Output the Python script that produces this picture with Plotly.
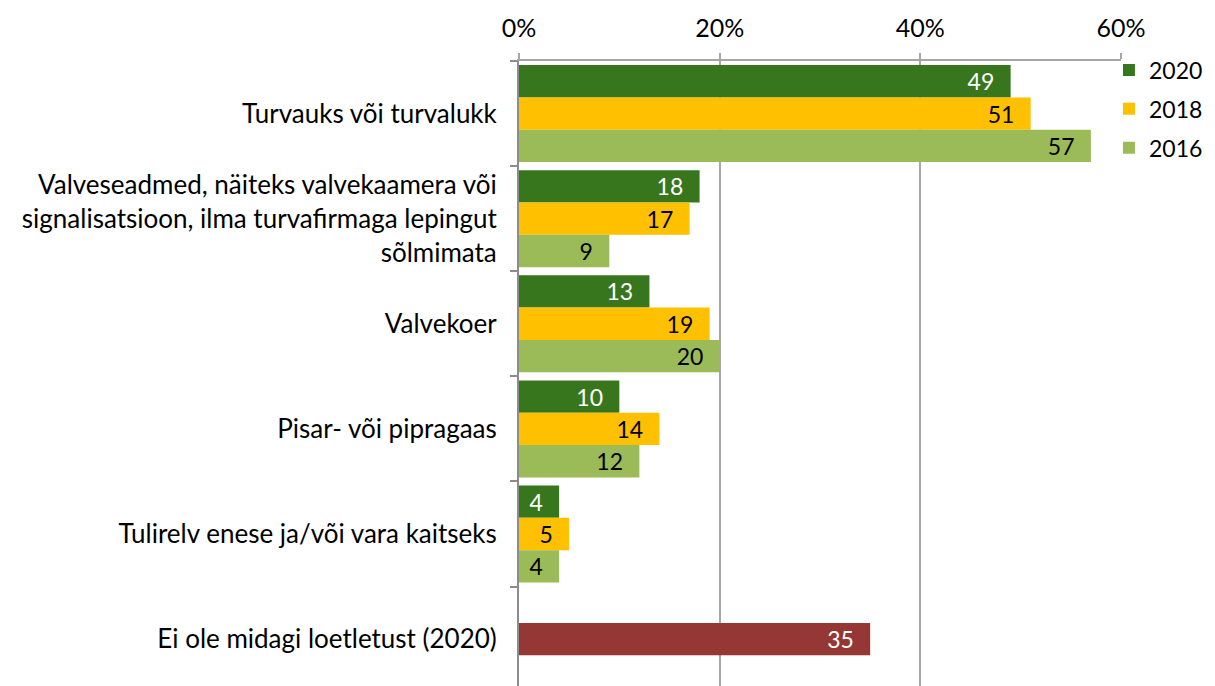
import plotly.graph_objects as go

categories = [
    "Turvauks või turvalukk",
    "Valveseadmed, näiteks valvekaamera või<br>signalisatsioon, ilma turvafirmaga lepingut<br>sõlmimata",
    "Valvekoer",
    "Pisar- või pipragaas",
    "Tulirelv enese ja/või vara kaitseks",
    "Ei ole midagi loetletust (2020)",
]
series_names = ["2020", "2018", "2016"]
values_2020 = [49, 18, 13, 10, 4, None]
values_2018 = [51, 17, 19, 14, 5, None]
values_2016 = [57, 9, 20, 12, 4, None]
values_none = [None, None, None, None, None, 35]
x_ticks = [0, 20, 40, 60]
x_tick_labels = ["0%", "20%", "40%", "60%"]

colors = {"2020": "#38761D", "2018": "#FFC000", "2016": "#9BBB59", "none": "#953735"}
text_colors = {"2020": "white", "2018": "black", "2016": "black", "none": "white"}

FONT = "Lato"
FS = 25
YFS = 26
LFS = 23
LEGFS = 23
W = 0.3076
offsets = {"2020": -1.5 * W, "2018": -0.5 * W, "2016": 0.5 * W, "none": -0.5 * W}

def lab(v):
    return [None if x is None else f"{x}\u2007" for x in v]

fig = go.Figure()
for name, vals in [("2020", values_2020), ("2018", values_2018), ("2016", values_2016), ("none", values_none)]:
    fig.add_trace(go.Bar(
        y=categories, x=vals, orientation="h", name=name,
        marker=dict(color=colors[name], line=dict(width=0)),
        width=W, offset=offsets[name],
        text=lab(vals), textposition="inside", insidetextanchor="end", textangle=0,
        textfont=dict(family=FONT, size=LFS, color=text_colors[name]),
        constraintext="none", cliponaxis=False,
        showlegend=(name != "none"), legendgroup=name,
    ))

fig.update_layout(
    width=1207, height=678,
    margin=dict(l=511, r=94, t=53, b=0),
    barmode="overlay",
    plot_bgcolor="white", paper_bgcolor="white",
    font=dict(family=FONT, size=FS, color="black"),
    legend=dict(x=0.98, y=1.02, xanchor="left", yanchor="top",
                traceorder="grouped", tracegroupgap=6, itemwidth=30,
                font=dict(family=FONT, size=LEGFS, color="black"),
                bgcolor="rgba(0,0,0,0)"),
    xaxis=dict(side="top", range=[0, 60], tickvals=x_ticks, ticktext=x_tick_labels,
               tickfont=dict(family=FONT, size=FS),
               showgrid=True, gridcolor="#A6A6A6", gridwidth=1.5,
               showline=True, linecolor="#A6A6A6", linewidth=2,
               ticks="outside", ticklen=6, tickcolor="#A6A6A6", tickwidth=2,
               ticklabelstandoff=6, zeroline=False, fixedrange=True),
    yaxis=dict(type="category", range=[5.446, -0.5],
               tickfont=dict(family=FONT, size=YFS),
               showline=True, linecolor="#8C8C8C", linewidth=2,
               ticks="outside", ticklen=7, tickcolor="#8C8C8C", tickwidth=2,
               tickson="boundaries", ticklabelstandoff=15,
               showgrid=False, fixedrange=True),
)

fig.write_html("out.html")
